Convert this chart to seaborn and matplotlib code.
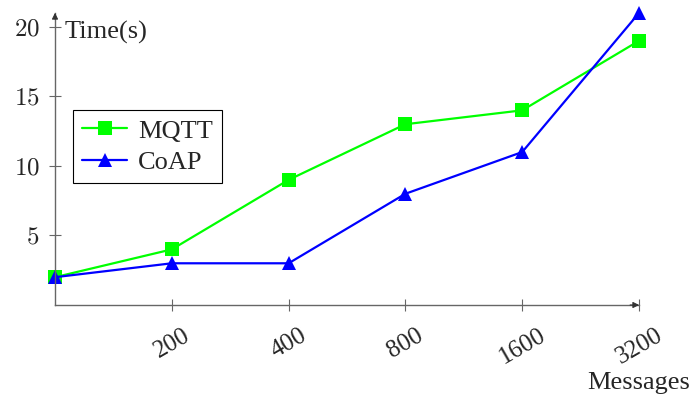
import numpy as np
import pandas as pd
import seaborn as sns
import matplotlib.pyplot as plt

# data
messages = ['', '200', '400', '800', '1600', '3200']
mqtt = [2, 4, 9, 13, 14, 19]
coap = [2, 3, 3, 8, 11, 21]
y_ticks = [5, 10, 15, 20]

sns.set_style('white')
plt.rcParams['font.family'] = ['Liberation Serif', 'DejaVu Serif']
plt.rcParams['mathtext.fontset'] = 'cm'

pos = np.arange(len(messages))
df = pd.DataFrame({'pos': pos, 'MQTT': mqtt, 'CoAP': coap})

fig = plt.figure(figsize=(6.94, 3.96), dpi=100)
ax = fig.add_axes([55 / 694, 1 - 305 / 396, 584 / 694, 292 / 396])

sns.lineplot(data=df, x='pos', y='MQTT', ax=ax, color='#00ff00', lw=1.6,
             marker='s', markersize=9.5, markeredgewidth=0, label='MQTT')
sns.lineplot(data=df, x='pos', y='CoAP', ax=ax, color='#0000ff', lw=1.6,
             marker='^', markersize=10, markeredgewidth=0, label='CoAP')
for ln in ax.lines:
    ln.set_clip_on(False)

ax.set_xlim(0, len(messages) - 1)
ax.set_ylim(0, 21)

# x ticks only where there is a label
xt = [p for p, m in zip(pos, messages) if m]
ax.set_xticks(xt)
ax.set_xticklabels([m for m in messages if m], rotation=30,
                   ha='center', va='top', fontsize=18)
ax.set_yticks(y_ticks)
ax.set_yticklabels([f'${v}$' for v in y_ticks], fontsize=18)
ax.tick_params(axis='both', direction='inout', length=8, width=0.8,
               color='#666666', bottom=True, left=True)
ax.tick_params(axis='x', pad=10)
ax.tick_params(axis='y', pad=7)
ax.set_xlabel('')
ax.set_ylabel('')

# axis lines with arrows
for s in ['top', 'right']:
    ax.spines[s].set_visible(False)
for s in ['left', 'bottom']:
    ax.spines[s].set_color('#666666')
    ax.spines[s].set_linewidth(1.0)
ax.annotate('', xy=(1.005, 0), xytext=(0.98, 0), xycoords='axes fraction',
            arrowprops=dict(arrowstyle='-|>', color='#333333', lw=0.8,
                            mutation_scale=9), annotation_clip=False)
ax.annotate('', xy=(0, 1.01), xytext=(0, 0.97), xycoords='axes fraction',
            arrowprops=dict(arrowstyle='-|>', color='#333333', lw=0.8,
                            mutation_scale=9), annotation_clip=False)

fig.text(65 / 694, 1 - 32 / 396, 'Time(s)', fontsize=19, ha='left', va='center')
fig.text(639 / 694, 1 - 383 / 396, 'Messages', fontsize=19, ha='center', va='center')

leg = ax.legend(loc='upper left', bbox_to_anchor=(0.031, 0.668), borderaxespad=0,
                fontsize=19, handlelength=1.7, handletextpad=0.4,
                labelspacing=0.3, fancybox=False, framealpha=1,
                edgecolor='black', borderpad=0.35)
leg.get_frame().set_linewidth(0.8)

fig.savefig('out.png', dpi=100)
